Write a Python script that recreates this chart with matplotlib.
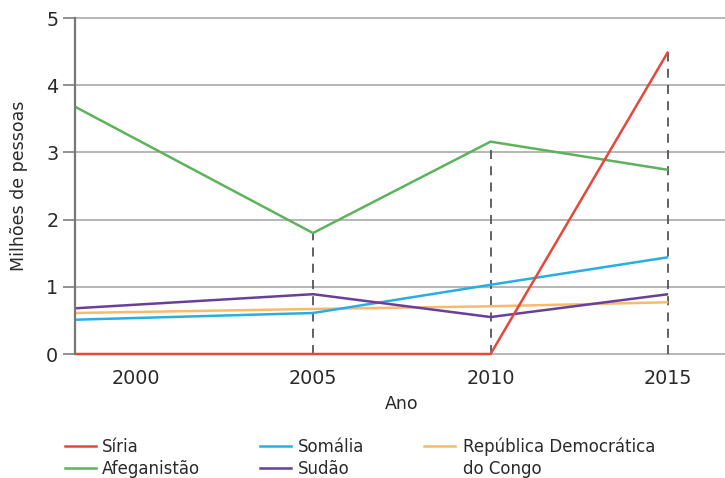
import matplotlib
matplotlib.use("Agg")
import matplotlib.pyplot as plt
from matplotlib.lines import Line2D

plt.rcParams['font.family'] = ['DejaVu Sans']

# Refugees by country of origin (millions of people)
years = [1998.3, 2005, 2010, 2015]
siria = [0.0, 0.0, 0.0, 4.5]
afeganistao = [3.68, 1.80, 3.16, 2.74]
somalia = [0.51, 0.61, 1.03, 1.44]
sudao = [0.68, 0.89, 0.55, 0.89]
congo = [0.61, 0.67, 0.71, 0.77]

tick_years = [2000, 2005, 2010, 2015]
y_ticks = [0, 1, 2, 3, 4, 5]

series = [
    ("Síria", siria, "#e5483b"),
    ("Afeganistão", afeganistao, "#5db35c"),
    ("Somália", somalia, "#27aee3"),
    ("Sudão", sudao, "#6a3f97"),
    ("República Democrática\ndo Congo", congo, "#f8bb6c"),
]

TXT = "#2a2a2a"

fig = plt.figure(figsize=(7.25, 4.78), dpi=100)
ax = fig.add_axes([75 / 725, 1 - 354 / 478, 650 / 725, 336 / 478])

ax.set_xlim(1998.3, 2016.6)
ax.set_ylim(0, 5)

# horizontal grid
for y in y_ticks:
    ax.axhline(y, color="#b0b0b0", lw=1.3, zorder=1, clip_on=False)

# dashed guides from zero up to the highest value at each marked year
for yr in tick_years[1:]:
    i = years.index(yr)
    top = max(s[1][i] for s in series)
    ax.vlines(yr, 0, top, colors="#555555", linestyles=(0, (5, 4)), lw=1.3, zorder=2)

draw_order = [1, 4, 2, 3, 0]
for k in draw_order:
    name, vals, col = series[k]
    ax.plot(years, vals, color=col, lw=1.8, zorder=3, solid_capstyle="butt",
            clip_on=False)

for s in ["top", "right", "bottom"]:
    ax.spines[s].set_visible(False)
ax.spines["left"].set_color("#777777")
ax.spines["left"].set_linewidth(1.6)
ax.spines["left"].set_zorder(4)

ax.set_yticks(y_ticks)
ax.set_xticks(tick_years)
ax.tick_params(axis="y", length=9, width=1.3, color="#888888", labelsize=13.8,
               labelcolor=TXT, pad=3)
ax.tick_params(axis="x", length=0, labelsize=13.8, labelcolor=TXT, pad=11)

fig.text(19 / 725, 1 - 186 / 478, "Milhões de pessoas", rotation=90,
         ha="center", va="center", fontsize=12.5, color=TXT)
fig.text(402 / 725, 1 - 404 / 478, "Ano", ha="center", va="center",
         fontsize=12.5, color=TXT)

# legend, three columns
legend_pos = [(65, 446), (65, 468), (260, 446), (260, 468), (424, 446)]
text_off = {65: 37, 260: 38, 424: 39}
for (name, vals, col), (lx, ly) in zip(series, legend_pos):
    fig.add_artist(Line2D([lx / 725, (lx + 31) / 725], [1 - ly / 478, 1 - ly / 478],
                          color=col, lw=1.8, transform=fig.transFigure))
    tx = (lx + text_off[lx]) / 725
    lines = name.split("\n")
    for j, part in enumerate(lines):
        fig.text(tx, 1 - (ly + 1 + 22 * j) / 478, part, ha="left",
                 va="center", fontsize=12, color=TXT)

fig.savefig("out.png", dpi=100)
